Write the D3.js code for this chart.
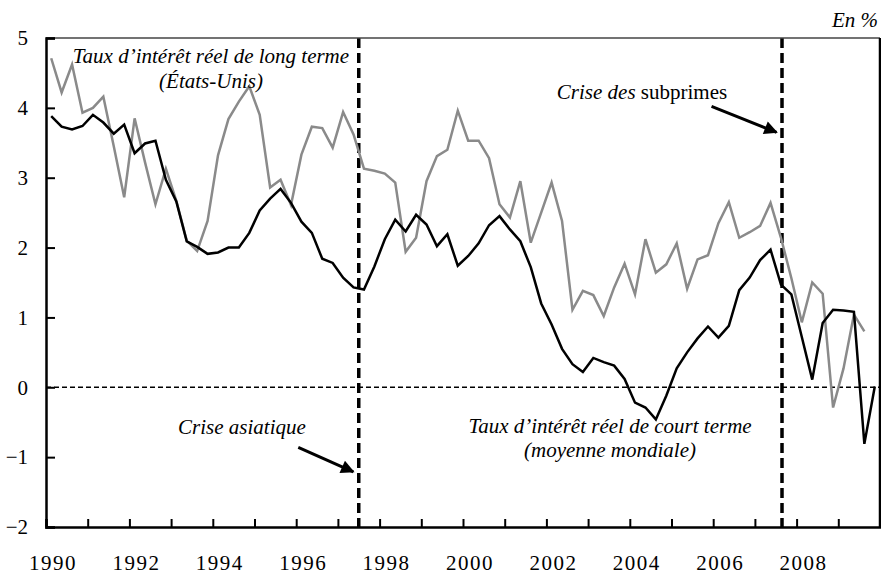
<!DOCTYPE html>
<html>
<head>
<meta charset="utf-8">
<script src="https://cdn.jsdelivr.net/npm/d3@7"></script>
<style>
  html, body { margin: 0; padding: 0; background: #fff; }
  svg { display: block; font-family: "Liberation Serif", "Times New Roman", serif; }
</style>
</head>
<body>
<div id="chart"></div>
<script>
'use strict';

// quarterly series, first quarter = 1990 Q1
const START_YEAR = 1990;

// taux d'intérêt réel de long terme (États-Unis)
const longRate = [
    4.71, 4.22, 4.62, 3.93, 4.00, 4.16, 3.45, 2.72, 3.85, 3.22,
    2.62, 3.13, 2.67, 2.10, 1.95, 2.38, 3.32, 3.84, 4.09, 4.31,
    3.90, 2.86, 2.97, 2.61, 3.33, 3.73, 3.71, 3.43, 3.94, 3.62,
    3.13, 3.10, 3.06, 2.93, 1.94, 2.14, 2.95, 3.31, 3.40, 3.96,
    3.53, 3.53, 3.28, 2.62, 2.43, 2.95, 2.07, 2.50, 2.93, 2.38,
    1.11, 1.38, 1.32, 1.02, 1.43, 1.77, 1.33, 2.12, 1.64, 1.76,
    2.06, 1.41, 1.83, 1.89, 2.35, 2.65, 2.14, 2.22, 2.31, 2.64,
    2.14, 1.56, 0.93, 1.50, 1.34, -0.29, 0.27, 1.04, 0.80
];

// taux d'intérêt réel de court terme (moyenne mondiale)
const shortRate = [
    3.88, 3.73, 3.69, 3.74, 3.90, 3.79, 3.63, 3.76, 3.35, 3.49,
    3.53, 2.97, 2.66, 2.09, 2.01, 1.91, 1.93, 2.00, 2.00, 2.21,
    2.53, 2.70, 2.84, 2.64, 2.37, 2.21, 1.84, 1.78, 1.57, 1.43,
    1.40, 1.73, 2.12, 2.40, 2.23, 2.47, 2.33, 2.02, 2.19, 1.74,
    1.88, 2.06, 2.32, 2.45, 2.26, 2.09, 1.72, 1.20, 0.90, 0.55,
    0.33, 0.22, 0.42, 0.36, 0.31, 0.12, -0.22, -0.29, -0.46, -0.12,
    0.27, 0.50, 0.70, 0.87, 0.71, 0.88, 1.39, 1.57, 1.82, 1.97,
    1.47, 1.33, 0.72, 0.11, 0.92, 1.11, 1.10, 1.08, -0.81, 0.01
];

const yearTicks = [1990, 1991, 1992, 1993, 1994, 1995, 1996, 1997, 1998, 1999,
                   2000, 2001, 2002, 2003, 2004, 2005, 2006, 2007, 2008, 2009];
const yearLabels = [1990, 1992, 1994, 1996, 1998, 2000, 2002, 2004, 2006, 2008];
const valueTicks = [-2, -1, 0, 1, 2, 3, 4, 5];

// crises (date in decimal years)
const crises = [
    { name: 'asiatique', date: 1997.5 },
    { name: 'subprimes', date: 2007.65 }
];

const W = 881, H = 574;
const margin = { top: 38, right: 1, bottom: 47, left: 46 };
const width = W - margin.left - margin.right;
const height = H - margin.top - margin.bottom;
const FONT = '21px';

// quarter mid-points
const quarterDate = i => START_YEAR + (i + 0.5) / 4;

const xScale = d3.scaleLinear().domain([1990, 2010]).range([0, width]);
const yScale = d3.scaleLinear().domain([-2, 5]).range([height, 0]);

const svg = d3.select('#chart').append('svg')
    .attr('width', W)
    .attr('height', H);

const g = svg.append('g')
    .attr('transform', `translate(${margin.left},${margin.top})`);

// zero line
g.append('line')
    .attr('x1', 0).attr('x2', width)
    .attr('y1', yScale(0)).attr('y2', yScale(0))
    .attr('stroke', '#000')
    .attr('stroke-width', 1.5)
    .attr('stroke-dasharray', '5,3');

// crisis lines
g.selectAll('line.crisis')
    .data(crises)
    .enter().append('line')
    .attr('class', 'crisis')
    .attr('x1', d => xScale(d.date)).attr('x2', d => xScale(d.date))
    .attr('y1', 0).attr('y2', height)
    .attr('stroke', '#000')
    .attr('stroke-width', 3.5)
    .attr('stroke-dasharray', '10,5');

const line = d3.line()
    .x((d, i) => xScale(quarterDate(i)))
    .y(d => yScale(d));

g.append('path')
    .datum(longRate)
    .attr('fill', 'none')
    .attr('stroke', '#8a8a8a')
    .attr('stroke-width', 2.5)
    .attr('d', line);

g.append('path')
    .datum(shortRate)
    .attr('fill', 'none')
    .attr('stroke', '#000')
    .attr('stroke-width', 2.5)
    .attr('d', line);

// frame
g.append('line').attr('x1', 0).attr('x2', width).attr('y1', 0).attr('y2', 0)
    .attr('stroke', '#444').attr('stroke-width', 1.5);
g.append('line').attr('x1', width).attr('x2', width).attr('y1', 0).attr('y2', height)
    .attr('stroke', '#000').attr('stroke-width', 2.5);

// axes
const yAxis = g.append('g')
    .call(d3.axisLeft(yScale).tickValues(valueTicks).tickSize(-9).tickFormat(d3.format('d')));

const xAxis = g.append('g')
    .attr('transform', `translate(0,${height})`)
    .call(d3.axisBottom(xScale).tickValues(yearTicks).tickSize(-8).tickFormat(''));

g.append('g')
    .attr('transform', `translate(0,${height})`)
    .selectAll('text')
    .data(yearLabels)
    .enter().append('text')
    .attr('x', d => xScale(d) + 7)
    .attr('y', 43)
    .attr('text-anchor', 'middle')
    .style('font-size', FONT)
    .style('letter-spacing', '1.5px')
    .text(d => d);

[yAxis, xAxis].forEach(a => {
    a.attr('font-family', null);
    a.select('.domain').attr('stroke', '#000').attr('stroke-width', 2.5);
    a.selectAll('.tick line').attr('stroke', '#000').attr('stroke-width', 2);
    a.selectAll('.tick text').style('font-size', FONT).attr('fill', '#000');
});
yAxis.selectAll('.tick text').attr('x', -18);

// annotations
const ann = svg.append('g').style('font-style', 'italic').style('font-size', FONT);

ann.append('text').attr('x', 878).attr('y', 27).attr('text-anchor', 'end').text('En %');

ann.append('text').attr('x', 211).attr('y', 63).attr('text-anchor', 'middle')
    .text('Taux d\u2019intérêt réel de long terme');
ann.append('text').attr('x', 211).attr('y', 88).attr('text-anchor', 'middle')
    .text('(États-Unis)');

ann.append('text').attr('x', 610).attr('y', 433).attr('text-anchor', 'middle')
    .text('Taux d\u2019intérêt réel de court terme');
ann.append('text').attr('x', 610).attr('y', 457).attr('text-anchor', 'middle')
    .text('(moyenne mondiale)');

ann.append('text').attr('x', 242).attr('y', 434).attr('text-anchor', 'middle')
    .text('Crise asiatique');

const sub = ann.append('text').attr('x', 642).attr('y', 99).attr('text-anchor', 'middle');
sub.append('tspan').text('Crise des ');
sub.append('tspan').style('font-style', 'normal').text('subprimes');

// arrows
svg.append('defs').append('marker')
    .attr('id', 'head')
    .attr('viewBox', '0 0 10 10')
    .attr('refX', 9).attr('refY', 5)
    .attr('markerWidth', 5.5).attr('markerHeight', 4.5)
    .attr('markerUnits', 'strokeWidth')
    .attr('orient', 'auto')
    .append('path').attr('d', 'M0,0 L10,5 L0,10 Z').attr('fill', '#000');

const arrows = [
    { from: [1996.05, -0.86], to: [1997.37, -1.21] },
    { from: [2005.96, 4.02], to: [2007.52, 3.65] }
];

g.selectAll('line.arrow')
    .data(arrows)
    .enter().append('line')
    .attr('class', 'arrow')
    .attr('x1', d => xScale(d.from[0])).attr('y1', d => yScale(d.from[1]))
    .attr('x2', d => xScale(d.to[0])).attr('y2', d => yScale(d.to[1]))
    .attr('stroke', '#000')
    .attr('stroke-width', 3)
    .attr('marker-end', 'url(#head)');
</script>
</body>
</html>
